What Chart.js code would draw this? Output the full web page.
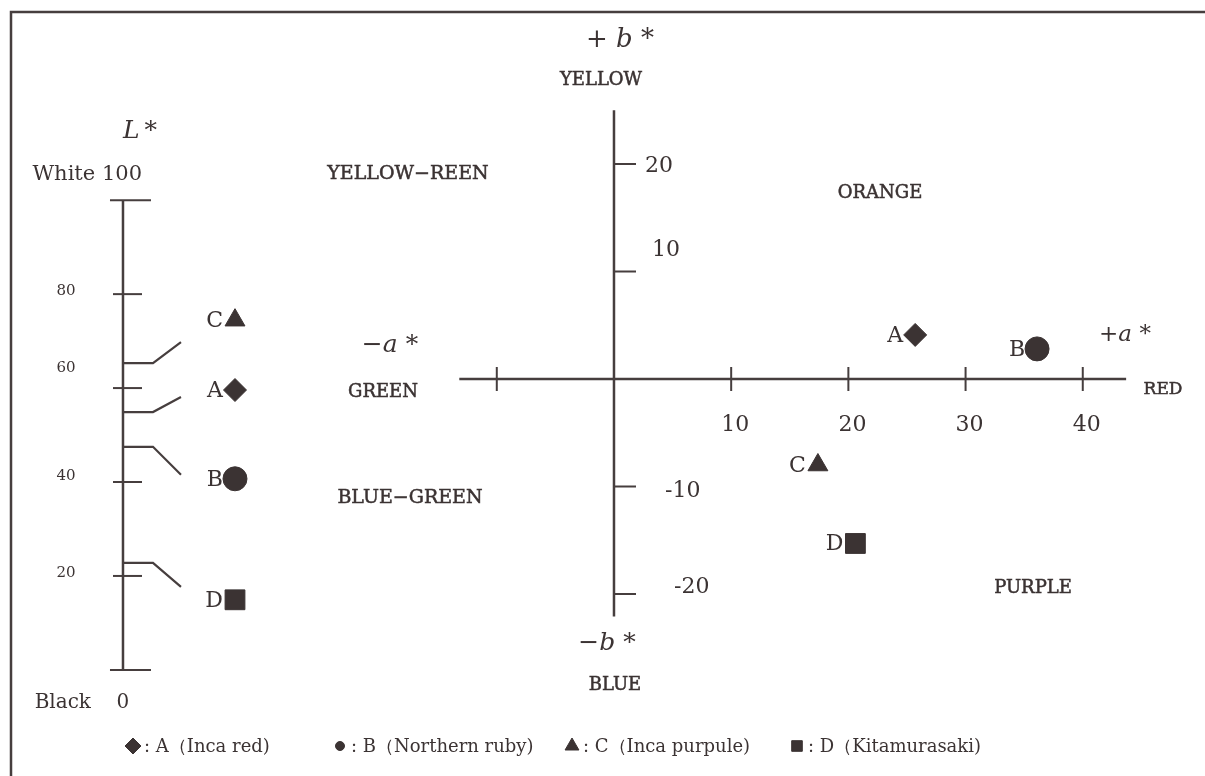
<!DOCTYPE html>
<html><head><meta charset="utf-8">
<script src="https://cdn.jsdelivr.net/npm/chart.js@4.4.0/dist/chart.umd.min.js"></script>
<style>html,body{margin:0;padding:0;background:#fff;}canvas{display:block;}</style>
</head><body>
<canvas id="c" width="1205" height="776"></canvas>
<script>
// ---- data ----
const samples = ['A', 'B', 'C', 'D'];
const names = ['Inca red', 'Northern ruby', 'Inca purpule', 'Kitamurasaki'];
const aStar = [25.7, 36.1, 17.4, 20.6];
const bStar = [4.1, 2.8, -8.0, -15.3];
const lStar = [54.9, 47.5, 65.3, 22.8];
const markerStyles = ['rectRot', 'circle', 'triangle', 'rect'];
const aTicks = [-10, 10, 20, 30, 40];
const aTickLabels = ['', '10', '20', '30', '40'];
const bTicks = [20, 10, -10, -20];
const bTickLabels = ['20', '10', '-10', '-20'];
const lTicks = [100, 80, 60, 40, 20, 0];
const lTickLabels = ['100', '80', '60', '40', '20', '0'];
const aAxisRange = [-13.2, 43.7];
const bAxisRange = [-22.1, 25.0];
const lAxisRange = [0, 100];

// ---- styles ----
const INK = '#3b3333';
const LINE = '#463e3e';
const SERIF = '"DejaVu Serif", "Liberation Serif", serif';
const markerRadius = [11.5, 12, 11.5, 14];
const legendRadius = [8, 4.5, 8, 7.5];
const bLabelDx = [31, 38, 51, 60];
const bLabelDy = [2, -21, 5, -7];
const lLabelDy = [0, -3, -20, -6, -3, 0];
const leaderDy = [-15, 28, -21, 24];
const labelDy = [-22, 32, -43, 37];

const datasets = samples.map((s, i) => ({
  label: s + ' (' + names[i] + ')',
  data: [{x: aStar[i], y: bStar[i]}],
  xAxisID: 'x', yAxisID: 'y',
  pointStyle: markerStyles[i],
  pointRadius: markerRadius[i],
  pointBackgroundColor: INK,
  pointBorderColor: INK,
  pointBorderWidth: 1
}));
datasets.push({
  label: 'L*',
  data: samples.map((s, i) => ({x: 0, y: lStar[i]})),
  xAxisID: 'xL', yAxisID: 'yL',
  pointRadius: 0
});

function marker(ctx, style, r, x, y) {
  ctx.save();
  ctx.fillStyle = INK; ctx.strokeStyle = INK; ctx.lineWidth = 1;
  Chart.helpers.drawPoint(ctx, {pointStyle: style, radius: r, rotation: 0, borderWidth: 1}, x, y);
  ctx.restore();
}
function text(ctx, s, x, y, font, align, bold) {
  ctx.font = font; ctx.textAlign = align || 'center'; ctx.textBaseline = 'middle';
  ctx.fillStyle = INK; ctx.fillText(s, x, y);
  if (bold) { ctx.lineWidth = bold; ctx.strokeStyle = INK; ctx.strokeText(s, x, y); }
}
function line(ctx, pts, w) {
  ctx.beginPath(); ctx.moveTo(pts[0][0], pts[0][1]);
  for (let k = 1; k < pts.length; k++) ctx.lineTo(pts[k][0], pts[k][1]);
  ctx.lineWidth = w || 2.5; ctx.strokeStyle = LINE; ctx.stroke();
}

const drawPlugin = {
  id: 'labDiagram',
  beforeDatasetsDraw(chart) {
    const ctx = chart.ctx, sx = chart.scales.x, sy = chart.scales.y, xL = chart.scales.xL, yL = chart.scales.yL;
    ctx.save();
    ctx.lineCap = 'butt';
    // frame
    line(ctx, [[11, 776], [11, 12], [1205, 12]], 2.5);
    // a* / b* axes
    const y0 = sy.getPixelForValue(0), x0 = sx.getPixelForValue(0);
    line(ctx, [[sx.getPixelForValue(aAxisRange[0]), y0], [sx.getPixelForValue(aAxisRange[1]), y0]]);
    line(ctx, [[x0, sy.getPixelForValue(bAxisRange[1])], [x0, sy.getPixelForValue(bAxisRange[0])]]);
    aTicks.forEach((v, i) => {
      const px = sx.getPixelForValue(v);
      line(ctx, [[px, y0 - 12], [px, y0 + 12]], 2);
      if (aTickLabels[i]) text(ctx, aTickLabels[i], px + 4, y0 + 46, '22px ' + SERIF);
    });
    bTicks.forEach((v, i) => {
      const py = sy.getPixelForValue(v);
      line(ctx, [[x0, py], [x0 + 22, py]], 2);
      text(ctx, bTickLabels[i], x0 + bLabelDx[i], py + bLabelDy[i], '22px ' + SERIF, 'left');
    });
    // L* axis
    const lx = xL.getPixelForValue(0);
    line(ctx, [[lx, yL.getPixelForValue(lAxisRange[1])], [lx, yL.getPixelForValue(lAxisRange[0])]]);
    lTicks.forEach((v, i) => {
      const py = yL.getPixelForValue(v);
      const end = (v === lAxisRange[0] || v === lAxisRange[1]);
      line(ctx, [[lx - (end ? 13 : 10), py], [lx + (end ? 28 : 19), py]], 2);
      if (v === lAxisRange[1]) {
        text(ctx, 'White ' + lTickLabels[i], lx + 19, py - 26, '21px ' + SERIF, 'right');
      } else if (v === lAxisRange[0]) {
        text(ctx, 'Black', lx - 32, py + 33, '20px ' + SERIF, 'right');
        text(ctx, lTickLabels[i], lx, py + 33, '20px ' + SERIF);
      } else {
        text(ctx, lTickLabels[i], lx - 57, py + lLabelDy[i], '15px ' + SERIF);
      }
    });
    // leaders on L* axis
    samples.forEach((s, i) => {
      const py = yL.getPixelForValue(lStar[i]);
      line(ctx, [[lx, py], [lx + 30, py], [lx + 58, py + leaderDy[i]]], 2.2);
      const mx = xL.getPixelForValue(1), my = py + labelDy[i];
      marker(ctx, markerStyles[i], markerRadius[i], mx, my);
      text(ctx, s, mx - 12, my + 1, '22px ' + SERIF, 'right');
    });
    ctx.restore();
  },
  afterDatasetsDraw(chart) {
    const ctx = chart.ctx, sx = chart.scales.x, sy = chart.scales.y;
    ctx.save();
    // point letters
    samples.forEach((s, i) => {
      text(ctx, s, sx.getPixelForValue(aStar[i]) - 12, sy.getPixelForValue(bStar[i]) + 1, '22px ' + SERIF, 'right');
    });
    // axis names
    const it = 'italic 25px ' + SERIF;
    text(ctx, 'L\u2009*', 140, 131, it);
    text(ctx, '+ b *', 620, 40, 'italic 26px ' + SERIF);
    text(ctx, '\u2212a *', 390, 345, it);
    text(ctx, '+a *', 1125, 335, 'italic 23px ' + SERIF);
    text(ctx, '\u2212b *', 607, 643, it);
    const cap = '19px ' + SERIF;
    text(ctx, 'YELLOW', 601, 80, '18px ' + SERIF, 'center', 0.5);
    text(ctx, 'YELLOW\u2212REEN', 408, 174, cap, 'center', 0.5);
    text(ctx, 'ORANGE', 880, 193, '18px ' + SERIF, 'center', 0.5);
    text(ctx, 'GREEN', 383, 392, '18px ' + SERIF, 'center', 0.5);
    text(ctx, 'BLUE\u2212GREEN', 410, 498, cap, 'center', 0.5);
    text(ctx, 'RED', 1163, 390, '17px ' + SERIF, 'center', 0.5);
    text(ctx, 'BLUE', 615, 685, '18px ' + SERIF, 'center', 0.5);
    text(ctx, 'PURPLE', 1033, 588, '18px ' + SERIF, 'center', 0.5);
    // legend
    const lgX = [133, 340, 572, 797];
    samples.forEach((s, i) => {
      marker(ctx, markerStyles[i], legendRadius[i], lgX[i], 746);
      text(ctx, ': ' + s + '\uFF08' + names[i] + ')', lgX[i] + 11, 747, '18px ' + SERIF, 'left');
    });
    ctx.restore();
  }
};

new Chart(document.getElementById('c'), {
  type: 'scatter',
  data: {datasets},
  options: {
    responsive: false, animation: false, maintainAspectRatio: false,
    layout: {padding: 0, autoPadding: false},
    plugins: {legend: {display: false}, tooltip: {enabled: false}},
    scales: {
      x: {type: 'linear', min: -52.39, max: 50.43, display: false},
      y: {type: 'linear', min: -36.93, max: 35.256, display: false},
      xL: {type: 'linear', axis: 'x', min: -1.098, max: 9.66, display: false},
      yL: {type: 'linear', axis: 'y', min: -22.59, max: 142.62, display: false}
    }
  },
  plugins: [drawPlugin]
});
</script>
</body></html>
